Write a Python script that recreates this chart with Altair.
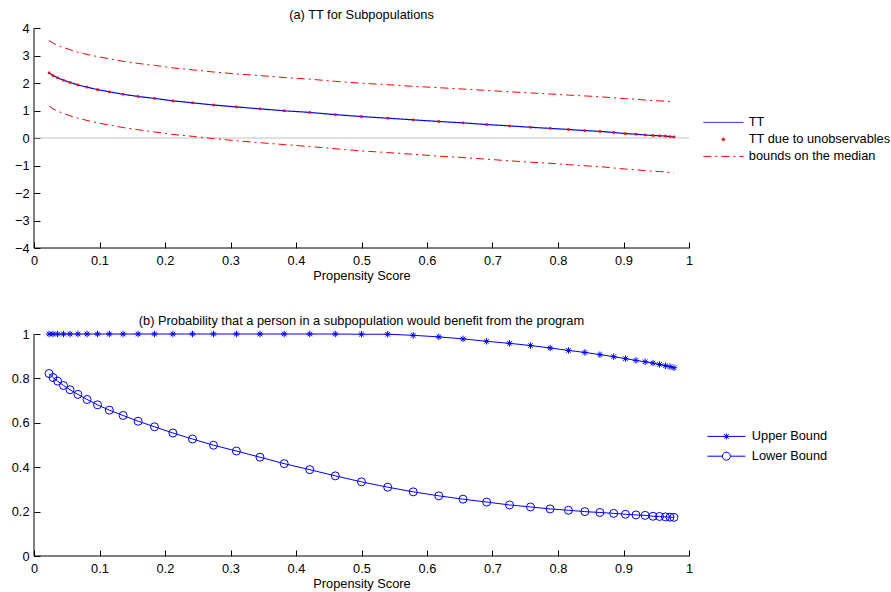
import altair as alt
import pandas as pd

# ---------------- data ----------------
X = [0.023, 0.029, 0.036, 0.045, 0.055, 0.067, 0.081, 0.097, 0.115, 0.136,
     0.159, 0.184, 0.212, 0.242, 0.274, 0.309, 0.345, 0.382, 0.421, 0.460,
     0.500, 0.540, 0.579, 0.618, 0.655, 0.691, 0.726, 0.758, 0.788, 0.816,
     0.841, 0.864, 0.885, 0.903, 0.919, 0.933, 0.945, 0.955, 0.964, 0.971, 0.977]

TT = [2.37, 2.27, 2.19, 2.10, 2.02, 1.93, 1.85, 1.76, 1.68, 1.59,
      1.51, 1.44, 1.35, 1.28, 1.20, 1.13, 1.06, 0.99, 0.93, 0.85,
      0.78, 0.72, 0.66, 0.60, 0.55, 0.49, 0.44, 0.39, 0.35, 0.31,
      0.27, 0.24, 0.20, 0.16, 0.14, 0.11, 0.09, 0.08, 0.07, 0.05, 0.04]

TT_UNOBS = [2.37, 2.27, 2.19, 2.10, 2.02, 1.93, 1.85, 1.76, 1.68, 1.59,
            1.51, 1.44, 1.35, 1.28, 1.20, 1.13, 1.06, 0.99, 0.93, 0.85,
            0.78, 0.72, 0.66, 0.60, 0.55, 0.49, 0.44, 0.39, 0.35, 0.31,
            0.27, 0.24, 0.20, 0.16, 0.14, 0.11, 0.09, 0.08, 0.07, 0.05, 0.04]

MEDIAN_UPPER = [3.55, 3.45, 3.37, 3.29, 3.21, 3.12, 3.04, 2.96, 2.88, 2.79,
                2.71, 2.64, 2.55, 2.48, 2.40, 2.33, 2.27, 2.20, 2.14, 2.06,
                1.99, 1.94, 1.88, 1.83, 1.78, 1.73, 1.68, 1.64, 1.60, 1.56,
                1.53, 1.50, 1.46, 1.43, 1.41, 1.38, 1.36, 1.35, 1.34, 1.33, 1.32]

MEDIAN_LOWER = [1.16, 1.06, 0.98, 0.89, 0.81, 0.72, 0.64, 0.55, 0.47, 0.38,
                0.30, 0.22, 0.13, 0.06, -0.02, -0.10, -0.17, -0.24, -0.31, -0.39,
                -0.47, -0.53, -0.59, -0.66, -0.71, -0.77, -0.83, -0.88, -0.92, -0.97,
                -1.01, -1.04, -1.09, -1.13, -1.15, -1.19, -1.21, -1.22, -1.23, -1.26, -1.27]

PROB_UPPER = [1.000, 1.000, 1.000, 1.000, 1.000, 1.000, 1.000, 1.000, 1.000, 1.000,
              1.000, 1.000, 1.000, 1.000, 1.000, 1.000, 1.000, 1.000, 1.000, 1.000,
              0.999, 0.999, 0.994, 0.987, 0.978, 0.967, 0.958, 0.948, 0.937, 0.926,
              0.917, 0.907, 0.898, 0.889, 0.881, 0.875, 0.869, 0.863, 0.857, 0.853, 0.848]

PROB_LOWER = [0.822, 0.804, 0.788, 0.768, 0.749, 0.728, 0.705, 0.681, 0.657, 0.633,
              0.607, 0.582, 0.554, 0.527, 0.499, 0.473, 0.445, 0.416, 0.389, 0.361,
              0.334, 0.310, 0.289, 0.271, 0.256, 0.243, 0.230, 0.221, 0.212, 0.206,
              0.200, 0.196, 0.192, 0.188, 0.185, 0.183, 0.179, 0.178, 0.176, 0.175, 0.174]

X_TICKS = [0, 0.1, 0.2, 0.3, 0.4, 0.5, 0.6, 0.7, 0.8, 0.9, 1]
YA_TICKS = [-4, -3, -2, -1, 0, 1, 2, 3, 4]
YB_TICKS = [0, 0.2, 0.4, 0.6, 0.8, 1]

SERIES_A = ["TT", "TT due to unobservables", "bounds on the median"]
SERIES_B = ["Upper Bound", "Lower Bound"]

TITLE_A = "(a) TT for Subpopulations"
TITLE_B = "(b) Probability that a person in a subpopulation would benefit from the program"
XLABEL = "Propensity Score"

# ---------------- styling ----------------
FONT = "Liberation Sans"
FS = 12.8
BLUE = "#0000ff"
RED = "#ff0000"
W, H_A, H_B = 655, 220, 222
STAR = "M-1,0H1M0,-1V1M-0.7,-0.7L0.7,0.7M-0.7,0.7L0.7,-0.7"
LEG_LINE = "M-4,0H4"
LEG_DOT = "M0.25,0A0.25,0.25 0 1,1 -0.25,0A0.25,0.25 0 1,1 0.25,0Z"
LEG_STAR = "M-3.8,0H3.8M-0.6,0H0.6M0,-0.6V0.6M-0.45,-0.45L0.45,0.45M-0.45,0.45L0.45,-0.45"
LEG_CIRC = "M-3.8,0H-0.8M0.8,0H3.8M0.8,0A0.8,0.8 0 1,1 -0.8,0A0.8,0.8 0 1,1 0.8,0Z"

# ---------------- tables ----------------
tt_df = pd.DataFrame({"x": X, "y": TT, "series": SERIES_A[0]})
dot_df = pd.DataFrame({"x": X, "y": TT_UNOBS, "series": SERIES_A[1]})
bnd_df = pd.concat([
    pd.DataFrame({"x": X, "y": MEDIAN_UPPER, "series": SERIES_A[2], "part": "upper"}),
    pd.DataFrame({"x": X, "y": MEDIAN_LOWER, "series": SERIES_A[2], "part": "lower"}),
])
up_df = pd.DataFrame({"x": X, "y": PROB_UPPER, "series": SERIES_B[0]})
lo_df = pd.DataFrame({"x": X, "y": PROB_LOWER, "series": SERIES_B[1]})
prob_df = pd.concat([up_df, lo_df])


def x_axis():
    return alt.Axis(values=X_TICKS, format="~g", domain=False, grid=False,
                    ticks=True, tickSize=6, offset=-6, tickColor="black",
                    labelPadding=6.5, labelFlush=False, labelOverlap=False,
                    labelFont=FONT, labelFontSize=FS, labelColor="black",
                    titleFont=FONT, titleFontSize=FS, titleFontWeight="normal",
                    titleColor="black", titlePadding=2)


def y_axis(vals):
    return alt.Axis(values=vals, format="~g", domain=False, grid=False,
                    ticks=True, tickSize=6, offset=-6, tickColor="black",
                    labelPadding=5, labelFlush=False, labelOverlap=False,
                    labelFont=FONT, labelFontSize=FS, labelColor="black")


def enc_x():
    return alt.X("x:Q", scale=alt.Scale(domain=[0, 1], nice=False, zero=False),
                 axis=x_axis(), title=XLABEL)


def enc_y(dom, vals):
    return alt.Y("y:Q", scale=alt.Scale(domain=dom, nice=False, zero=False),
                 axis=y_axis(vals), title=None)


def legend(lx, ly, rowpad):
    return alt.Legend(orient="none", legendX=lx, legendY=ly, title=None, padding=0,
                      labelFont=FONT, labelFontSize=FS, labelColor="black", labelLimit=400,
                      labelOffset=19, symbolOffset=0, symbolSize=100, rowPadding=rowpad,
                      symbolStrokeWidth=1, symbolOpacity=1)


# ---------------- panel (a) ----------------
leg_a = legend(683, 88, 3)
color_a = alt.Color("series:N", scale=alt.Scale(domain=SERIES_A, range=[BLUE, RED, RED]), legend=leg_a)
shape_a = alt.Shape("series:N", scale=alt.Scale(domain=SERIES_A, range=[LEG_LINE, LEG_DOT, LEG_LINE]), legend=leg_a)
dash_a = alt.StrokeDash("series:N", scale=alt.Scale(domain=SERIES_A, range=[[1, 0], [1, 0], [8, 4, 2, 4]]), legend=leg_a)

ya = enc_y([-4, 4], YA_TICKS)

zero_a = alt.Chart(pd.DataFrame({"y": [0]})).mark_rule(color="#c0c0c0", strokeWidth=1).encode(y=ya)
left_a = alt.Chart(pd.DataFrame({"x": [0]})).mark_rule(color="black", strokeWidth=1).encode(x=enc_x())
bottom_a = alt.Chart(pd.DataFrame({"y": [-4]})).mark_rule(color="black", strokeWidth=1).encode(y=ya)

legend_layer_a = alt.Chart(dot_df).transform_filter("false").mark_point(filled=False, strokeWidth=1).encode(
    x=enc_x(), y=ya, color=color_a, shape=shape_a)
tt_line = alt.Chart(tt_df).mark_line(strokeWidth=1.2).encode(x=enc_x(), y=ya, color=color_a, strokeDash=dash_a)
bnd_line = alt.Chart(bnd_df).mark_line(strokeWidth=1).encode(
    x=enc_x(), y=ya, color=color_a, strokeDash=dash_a, detail="part:N")
dots = alt.Chart(dot_df).mark_point(filled=True, shape="square", size=6, opacity=1,
                                    strokeWidth=0).encode(x=enc_x(), y=ya, color=color_a)

panel_a = alt.layer(zero_a, left_a, bottom_a, legend_layer_a, bnd_line, tt_line, dots).properties(
    width=W, height=H_A,
    title=alt.Title(TITLE_A, font=FONT, fontSize=FS, fontWeight="normal", color="black",
                    anchor="middle", offset=0))

# ---------------- panel (b) ----------------
leg_b = legend(686, 96, 5.8)
color_b = alt.Color("series:N", scale=alt.Scale(domain=SERIES_B, range=[BLUE, BLUE]), legend=leg_b)
shape_b = alt.Shape("series:N", scale=alt.Scale(domain=SERIES_B, range=[LEG_STAR, LEG_CIRC]), legend=leg_b)
yb = enc_y([0, 1], YB_TICKS)

left_b = alt.Chart(pd.DataFrame({"x": [0]})).mark_rule(color="black", strokeWidth=1).encode(x=enc_x())
bottom_b = alt.Chart(pd.DataFrame({"y": [0]})).mark_rule(color="black", strokeWidth=1).encode(y=yb)

legend_layer_b = alt.Chart(prob_df).transform_filter("false").mark_point(filled=False, strokeWidth=1).encode(
    x=enc_x(), y=yb, color=color_b, shape=shape_b)
prob_lines = alt.Chart(prob_df).mark_line(strokeWidth=1).encode(x=enc_x(), y=yb, color=color_b)
stars = alt.Chart(up_df).mark_point(shape=STAR, size=42, filled=False, opacity=1,
                                    strokeWidth=1).encode(x=enc_x(), y=yb, color=color_b)
circles = alt.Chart(lo_df).mark_point(shape="circle", size=64, filled=False, opacity=1,
                                      strokeWidth=1).encode(x=enc_x(), y=yb, color=color_b)

panel_b = alt.layer(left_b, bottom_b, legend_layer_b, prob_lines, stars, circles).properties(
    width=W, height=H_B,
    title=alt.Title(TITLE_B, font=FONT, fontSize=FS, fontWeight="normal", color="black",
                    anchor="middle", offset=0))

chart = alt.vconcat(panel_a, panel_b, spacing=32).resolve_scale(
    color="independent", shape="independent", strokeDash="independent").resolve_legend(
    color="independent", shape="independent", strokeDash="independent").properties(
    padding={"left": 11, "top": 9, "right": 0, "bottom": 0}
).configure(font=FONT, background="white").configure_view(stroke=None)

chart.save("out.html", embed_options={"renderer": "svg", "actions": False})
